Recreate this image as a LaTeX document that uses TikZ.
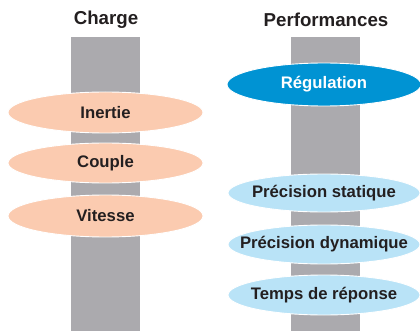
\documentclass[tikz,border=0pt]{standalone}
\usepackage{fontspec}
\setmainfont{Liberation Sans}
\usetikzlibrary{backgrounds}
\definecolor{barc}{HTML}{ABAAAE}
\definecolor{peach}{HTML}{FBCBB0}
\definecolor{regblue}{HTML}{0093D3}
\definecolor{lightblue}{HTML}{B9E3F7}
\definecolor{ink}{HTML}{231F20}
\tikzset{
  title/.style={font=\fontsize{18.7}{20}\selectfont\bfseries, text=ink, inner sep=0pt},
  lbl/.style={font=\fontsize{16.7}{18}\selectfont\bfseries, text=ink, inner sep=0pt},
  blob/.style={draw=white, line width=0.9pt},
  bar/.style={fill=barc, draw=none}
}
\begin{document}
\begin{tikzpicture}[x=1pt,y=-1pt]
\useasboundingbox (0,0) rectangle (420,331);
% titles
\node[title] (tcharge) at (106,20) {Charge};
\node[title] (tperf) at (326,20) {Performances};
% labels
\node[lbl] (inertie) at (105.5,112.5) {Inertie};
\node[lbl] (couple) at (105.5,163) {Couple};
\node[lbl] (vitesse) at (105.5,216) {Vitesse};
\node[lbl, text=white] (regul) at (324,84.5) {Régulation};
\node[lbl] (pstat) at (324,193) {Précision statique};
\node[lbl] (pdyn) at (324,244.5) {Précision dynamique};
\node[lbl] (temps) at (324,295) {Temps de réponse};
\begin{scope}[on background layer]
  % bars
  \fill[bar] (71,37) rectangle (140,331);
  \fill[bar] (291,37) rectangle (360,331);
  % ellipses
  \path[blob, fill=peach] (inertie.center) ellipse [x radius=97.5, y radius=20.5];
  \path[blob, fill=peach] (couple.center) ellipse [x radius=97.5, y radius=20];
  \path[blob, fill=peach] (vitesse.center) ellipse [x radius=97.5, y radius=21];
  \path[blob, fill=regblue] (regul.center) ellipse [x radius=97, y radius=21.5];
  \path[blob, fill=lightblue] (pstat.center) ellipse [x radius=96, y radius=19];
  \path[blob, fill=lightblue] (pdyn.center) ellipse [x radius=96, y radius=19.5];
  \path[blob, fill=lightblue] (temps.center) ellipse [x radius=96, y radius=20];
\end{scope}
\end{tikzpicture}
\end{document}
